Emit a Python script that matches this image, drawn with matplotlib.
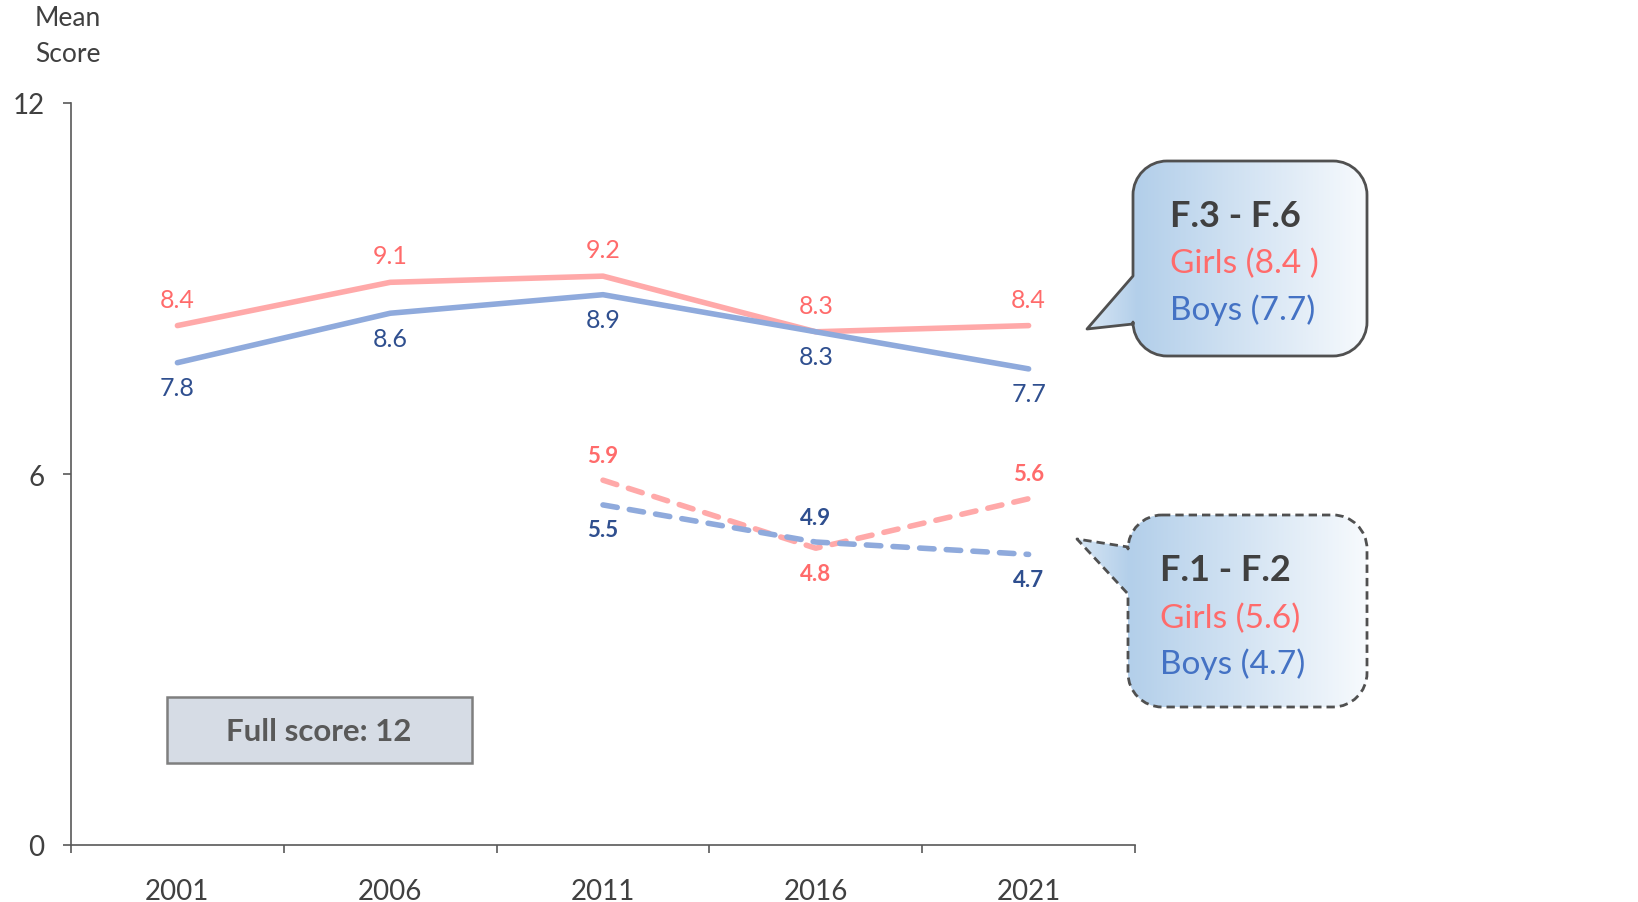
import numpy as np
import matplotlib
matplotlib.use("Agg")
import matplotlib.pyplot as plt
from matplotlib.path import Path
from matplotlib.patches import PathPatch, Rectangle
from matplotlib.colors import LinearSegmentedColormap

plt.rcParams['font.family'] = ['Lato', 'DejaVu Sans']

# data
years = ['2001', '2006', '2011', '2016', '2021']
girls_senior = [8.4, 9.1, 9.2, 8.3, 8.4]
boys_senior = [7.8, 8.6, 8.9, 8.3, 7.7]
girls_junior = [np.nan, np.nan, 5.9, 4.8, 5.6]
boys_junior = [np.nan, np.nan, 5.5, 4.9, 4.7]

# label above (+1) or below (-1) the point
girls_junior_side = [0, 0, 1, -1, 1]
boys_junior_side = [0, 0, -1, 1, -1]

pink_line = '#FFA9A9'
pink_text = '#FF6B6B'
blue_line = '#8FAADC'
blue_text = '#2F4F8F'
blue_text2 = '#4472C4'
grey = '#404040'

W, H = 1638, 903
fig = plt.figure(figsize=(W / 100, H / 100), dpi=100)
ax = fig.add_axes([71 / W, 1 - 846 / H, (1135 - 71) / W, (846 - 104) / H])

x = np.arange(len(years))
dash = (0, (2.6, 2.2))
ax.plot(x, girls_senior, color=pink_line, lw=4, solid_capstyle='round')
ax.plot(x, boys_senior, color=blue_line, lw=4, solid_capstyle='round')
ax.plot(x, girls_junior, color=pink_line, lw=4, ls=dash, dash_capstyle='round')
ax.plot(x, boys_junior, color=blue_line, lw=4, ls=dash, dash_capstyle='round')

for i in range(len(years)):
    ax.annotate(f'{girls_senior[i]}', (x[i], girls_senior[i]), xytext=(0, 19),
                textcoords='offset points', ha='center', va='center',
                fontsize=18, color=pink_text)
    ax.annotate(f'{boys_senior[i]}', (x[i], boys_senior[i]), xytext=(0, -18),
                textcoords='offset points', ha='center', va='center',
                fontsize=18, color=blue_text)
    if not np.isnan(girls_junior[i]):
        ax.annotate(f'{girls_junior[i]}', (x[i], girls_junior[i]),
                    xytext=(0, 18 * girls_junior_side[i]), textcoords='offset points',
                    ha='center', va='center', fontsize=16, fontweight='bold', color=pink_text)
        ax.annotate(f'{boys_junior[i]}', (x[i], boys_junior[i]),
                    xytext=(0, 18 * boys_junior_side[i]), textcoords='offset points',
                    ha='center', va='center', fontsize=16, fontweight='bold', color=blue_text)

ax.set_xlim(-0.5, 4.5)
ax.set_ylim(0, 12)
ax.set_yticks([0, 6, 12])
ax.set_xticks(x)
ax.set_xticklabels(years)
ax.set_xticks(np.arange(-0.5, 5, 1), minor=True)
ax.tick_params(axis='x', which='major', length=0, pad=24, labelsize=20, labelcolor=grey)
ax.tick_params(axis='x', which='minor', length=6, width=1.2, color='#595959')
ax.tick_params(axis='y', length=6, width=1.2, color='#595959', pad=13, labelsize=20, labelcolor=grey)
for s in ['top', 'right']:
    ax.spines[s].set_visible(False)
for s in ['left', 'bottom']:
    ax.spines[s].set_color('#595959')
    ax.spines[s].set_linewidth(1.2)

# overlay in pixel coords for the decorations
ov = fig.add_axes([0, 0, 1, 1], zorder=5)
ov.axis('off')

ov.text(68, 18, 'Mean', ha='center', va='center', fontsize=19, color=grey)
ov.text(68, 54, 'Score', ha='center', va='center', fontsize=19, color=grey)

ov.add_patch(Rectangle((167, 698), 305, 66, facecolor='#D6DCE5', edgecolor='#7F7F7F', lw=1.8))
ov.text(319, 732, 'Full score: 12', ha='center', va='center', fontsize=22.5,
        fontweight='bold', color='#595959')


def callout(x0, x1, y0, y1, r, ta, tip, tb):
    k = 0.5523 * r
    verts = [(x0 + r, y0), (x1 - r, y0),
             (x1 - r + k, y0), (x1, y0 + r - k), (x1, y0 + r),
             (x1, y1 - r),
             (x1, y1 - r + k), (x1 - r + k, y1), (x1 - r, y1),
             (x0 + r, y1),
             (x0 + r - k, y1), (x0, y1 - r + k), (x0, y1 - r),
             (x0, tb), tip, (x0, ta),
             (x0, y0 + r),
             (x0, y0 + r - k), (x0 + r - k, y0), (x0 + r, y0),
             (x0 + r, y0)]
    codes = [Path.MOVETO, Path.LINETO,
             Path.CURVE4, Path.CURVE4, Path.CURVE4,
             Path.LINETO,
             Path.CURVE4, Path.CURVE4, Path.CURVE4,
             Path.LINETO,
             Path.CURVE4, Path.CURVE4, Path.CURVE4,
             Path.LINETO, Path.LINETO, Path.LINETO,
             Path.LINETO,
             Path.CURVE4, Path.CURVE4, Path.CURVE4,
             Path.CLOSEPOLY]
    return Path(verts, codes)


grad = LinearSegmentedColormap.from_list('g', [(0, '#D7E6F4'), (0.18, '#B3CFEA'),
                                               (1, '#F7FAFD')])


def draw_callout(path, xmin, xmax, ymin, ymax, ls):
    patch = PathPatch(path, facecolor='none', edgecolor='#505050', lw=2.0, ls=ls,
                      joinstyle='round', zorder=3)
    ov.add_patch(patch)
    img = ov.imshow(np.linspace(0, 1, 256)[None, :], cmap=grad, aspect='auto',
                    extent=(xmin, xmax, ymax, ymin), zorder=2)
    img.set_clip_path(patch)


p1 = callout(1133, 1367, 162, 357, 34, 277, (1087, 330), 325)
draw_callout(p1, 1087, 1367, 162, 357, '-')
p2 = callout(1128, 1367, 516, 708, 34, 548, (1077, 540), 595)
draw_callout(p2, 1077, 1367, 516, 708, (0, (3, 1.8)))
ov.set_xlim(0, W)
ov.set_ylim(H, 0)

ov.text(1170, 217, 'F.3 - F.6', ha='left', va='center', fontsize=26, fontweight='bold', color=grey, zorder=4)
ov.text(1170, 264, 'Girls (8.4 )', ha='left', va='center', fontsize=24, color=pink_text, zorder=4)
ov.text(1170, 310, 'Boys (7.7)', ha='left', va='center', fontsize=24, color=blue_text2, zorder=4)
ov.text(1160, 571, 'F.1 - F.2', ha='left', va='center', fontsize=26, fontweight='bold', color=grey, zorder=4)
ov.text(1160, 619, 'Girls (5.6)', ha='left', va='center', fontsize=24, color=pink_text, zorder=4)
ov.text(1160, 664, 'Boys (4.7)', ha='left', va='center', fontsize=24, color=blue_text2, zorder=4)

fig.savefig('out.png', dpi=100, facecolor='white')
